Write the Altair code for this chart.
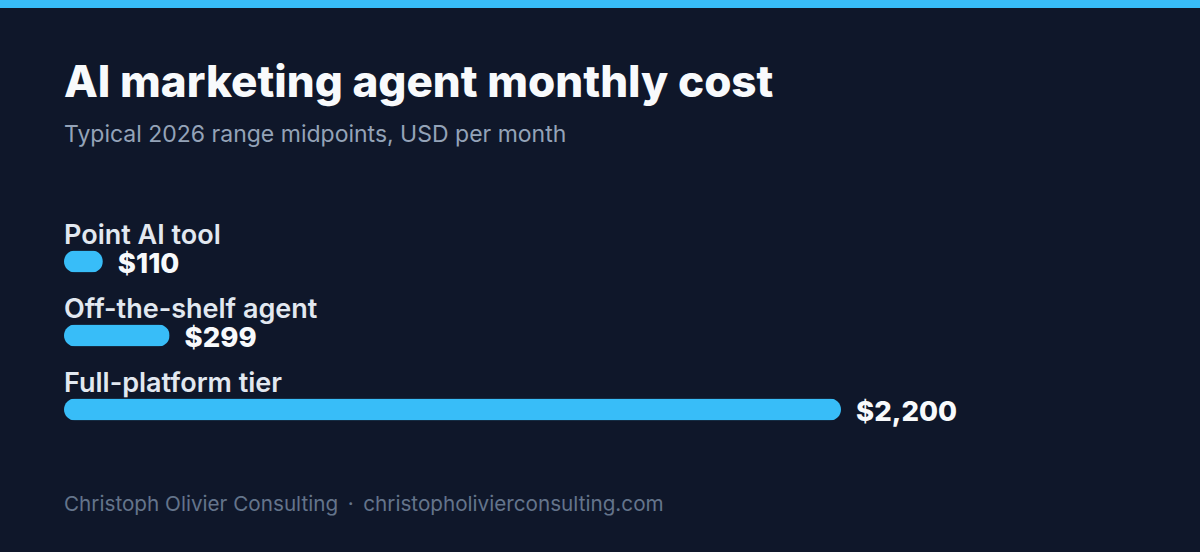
import altair as alt
import pandas as pd

# ---- data ----
categories = ["Point AI tool", "Off-the-shelf agent", "Full-platform tier"]
costs = [110, 299, 2200]
value_labels = ["$110", "$299", "$2,200"]

title_text = "AI marketing agent monthly cost"
subtitle_text = "Typical 2026 range midpoints, USD per month"
footer_text = "Christoph Olivier Consulting \u2009\u00b7\u2009 christopholivierconsulting.com"

# ---- page: remove default body margin so the dark card fills the window ----
try:
    from altair.utils import html as _html
    _orig_tpl = _html.TEMPLATES["standard"]

    class _NoMargin:
        def render(self, **kw):
            out = _orig_tpl.render(**kw)
            css = ("<style>html,body{margin:0;padding:0;background:#0f172a;"
                   "overflow:hidden}</style>")
            if "<head>" in out:
                return out.replace("<head>", "<head>" + css, 1)
            return css + out

    _html.TEMPLATES["standard"] = _NoMargin()
except Exception:
    pass

BG = "#0f172a"
ACCENT = "#38bdf8"
FONT = "Inter"

# layout (plot area = bar region)
PAD_L, PAD_T = 64, 224.5
PLOT_W, PLOT_H = 777, 222
PAD_R = 1200 - PAD_L - PLOT_W
PAD_B = 552 - PAD_T - PLOT_H

df = pd.DataFrame({"category": categories, "cost": costs, "label": value_labels})

x_enc = alt.X("cost:Q", scale=alt.Scale(domain=[0, 2200], nice=False), axis=None)
y_enc = alt.Y("category:N", sort=categories,
              scale=alt.Scale(type="point", padding=0.5), axis=None)

base = alt.Chart(df)

bars = base.mark_bar(size=22, cornerRadius=11, color=ACCENT).encode(
    x=x_enc, y=y_enc
)

cat_labels = base.mark_text(
    align="left", baseline="alphabetic", dy=-17.5,
    font=FONT, fontSize=27, fontWeight=600, color="#e2e8f0",
).encode(x=alt.value(0), y=y_enc, text="category:N")

val_labels = base.mark_text(
    align="left", baseline="alphabetic", dx=15, dy=11.5,
    font=FONT, fontSize=27.5, fontWeight=800, color="#f8fafc",
).encode(x=x_enc, y=y_enc, text="label:N")

stripe = alt.Chart(pd.DataFrame({"k": [1]})).mark_rule(
    color=ACCENT, strokeWidth=8
).encode(x=alt.value(-PAD_L), x2=alt.value(1200 - PAD_L), y=alt.value(4 - PAD_T))

title = alt.Chart(pd.DataFrame({"t": [title_text]})).mark_text(
    align="left", baseline="alphabetic", font=FONT, fontSize=44,
    fontWeight=800, color="#f8fafc",
).encode(x=alt.value(0), y=alt.value(97 - PAD_T), text="t:N")

subtitle = alt.Chart(pd.DataFrame({"t": [subtitle_text]})).mark_text(
    align="left", baseline="alphabetic", font=FONT, fontSize=23,
    fontWeight=400, color="#94a3b8",
).encode(x=alt.value(0), y=alt.value(141.5 - PAD_T), text="t:N")

footer = alt.Chart(pd.DataFrame({"t": [footer_text]})).mark_text(
    align="left", baseline="alphabetic", font=FONT, fontSize=20.7,
    fontWeight=400, color="#64748b",
).encode(x=alt.value(0), y=alt.value(511 - PAD_T), text="t:N")

chart = alt.layer(
    bars, cat_labels, val_labels, stripe, title, subtitle, footer
).properties(
    width=PLOT_W, height=PLOT_H, background=BG, autosize="none",
    padding={"left": PAD_L, "top": PAD_T, "right": PAD_R, "bottom": PAD_B},
).configure_view(stroke=None)

chart.save("out.html", embed_options={"renderer": "svg", "actions": False})
